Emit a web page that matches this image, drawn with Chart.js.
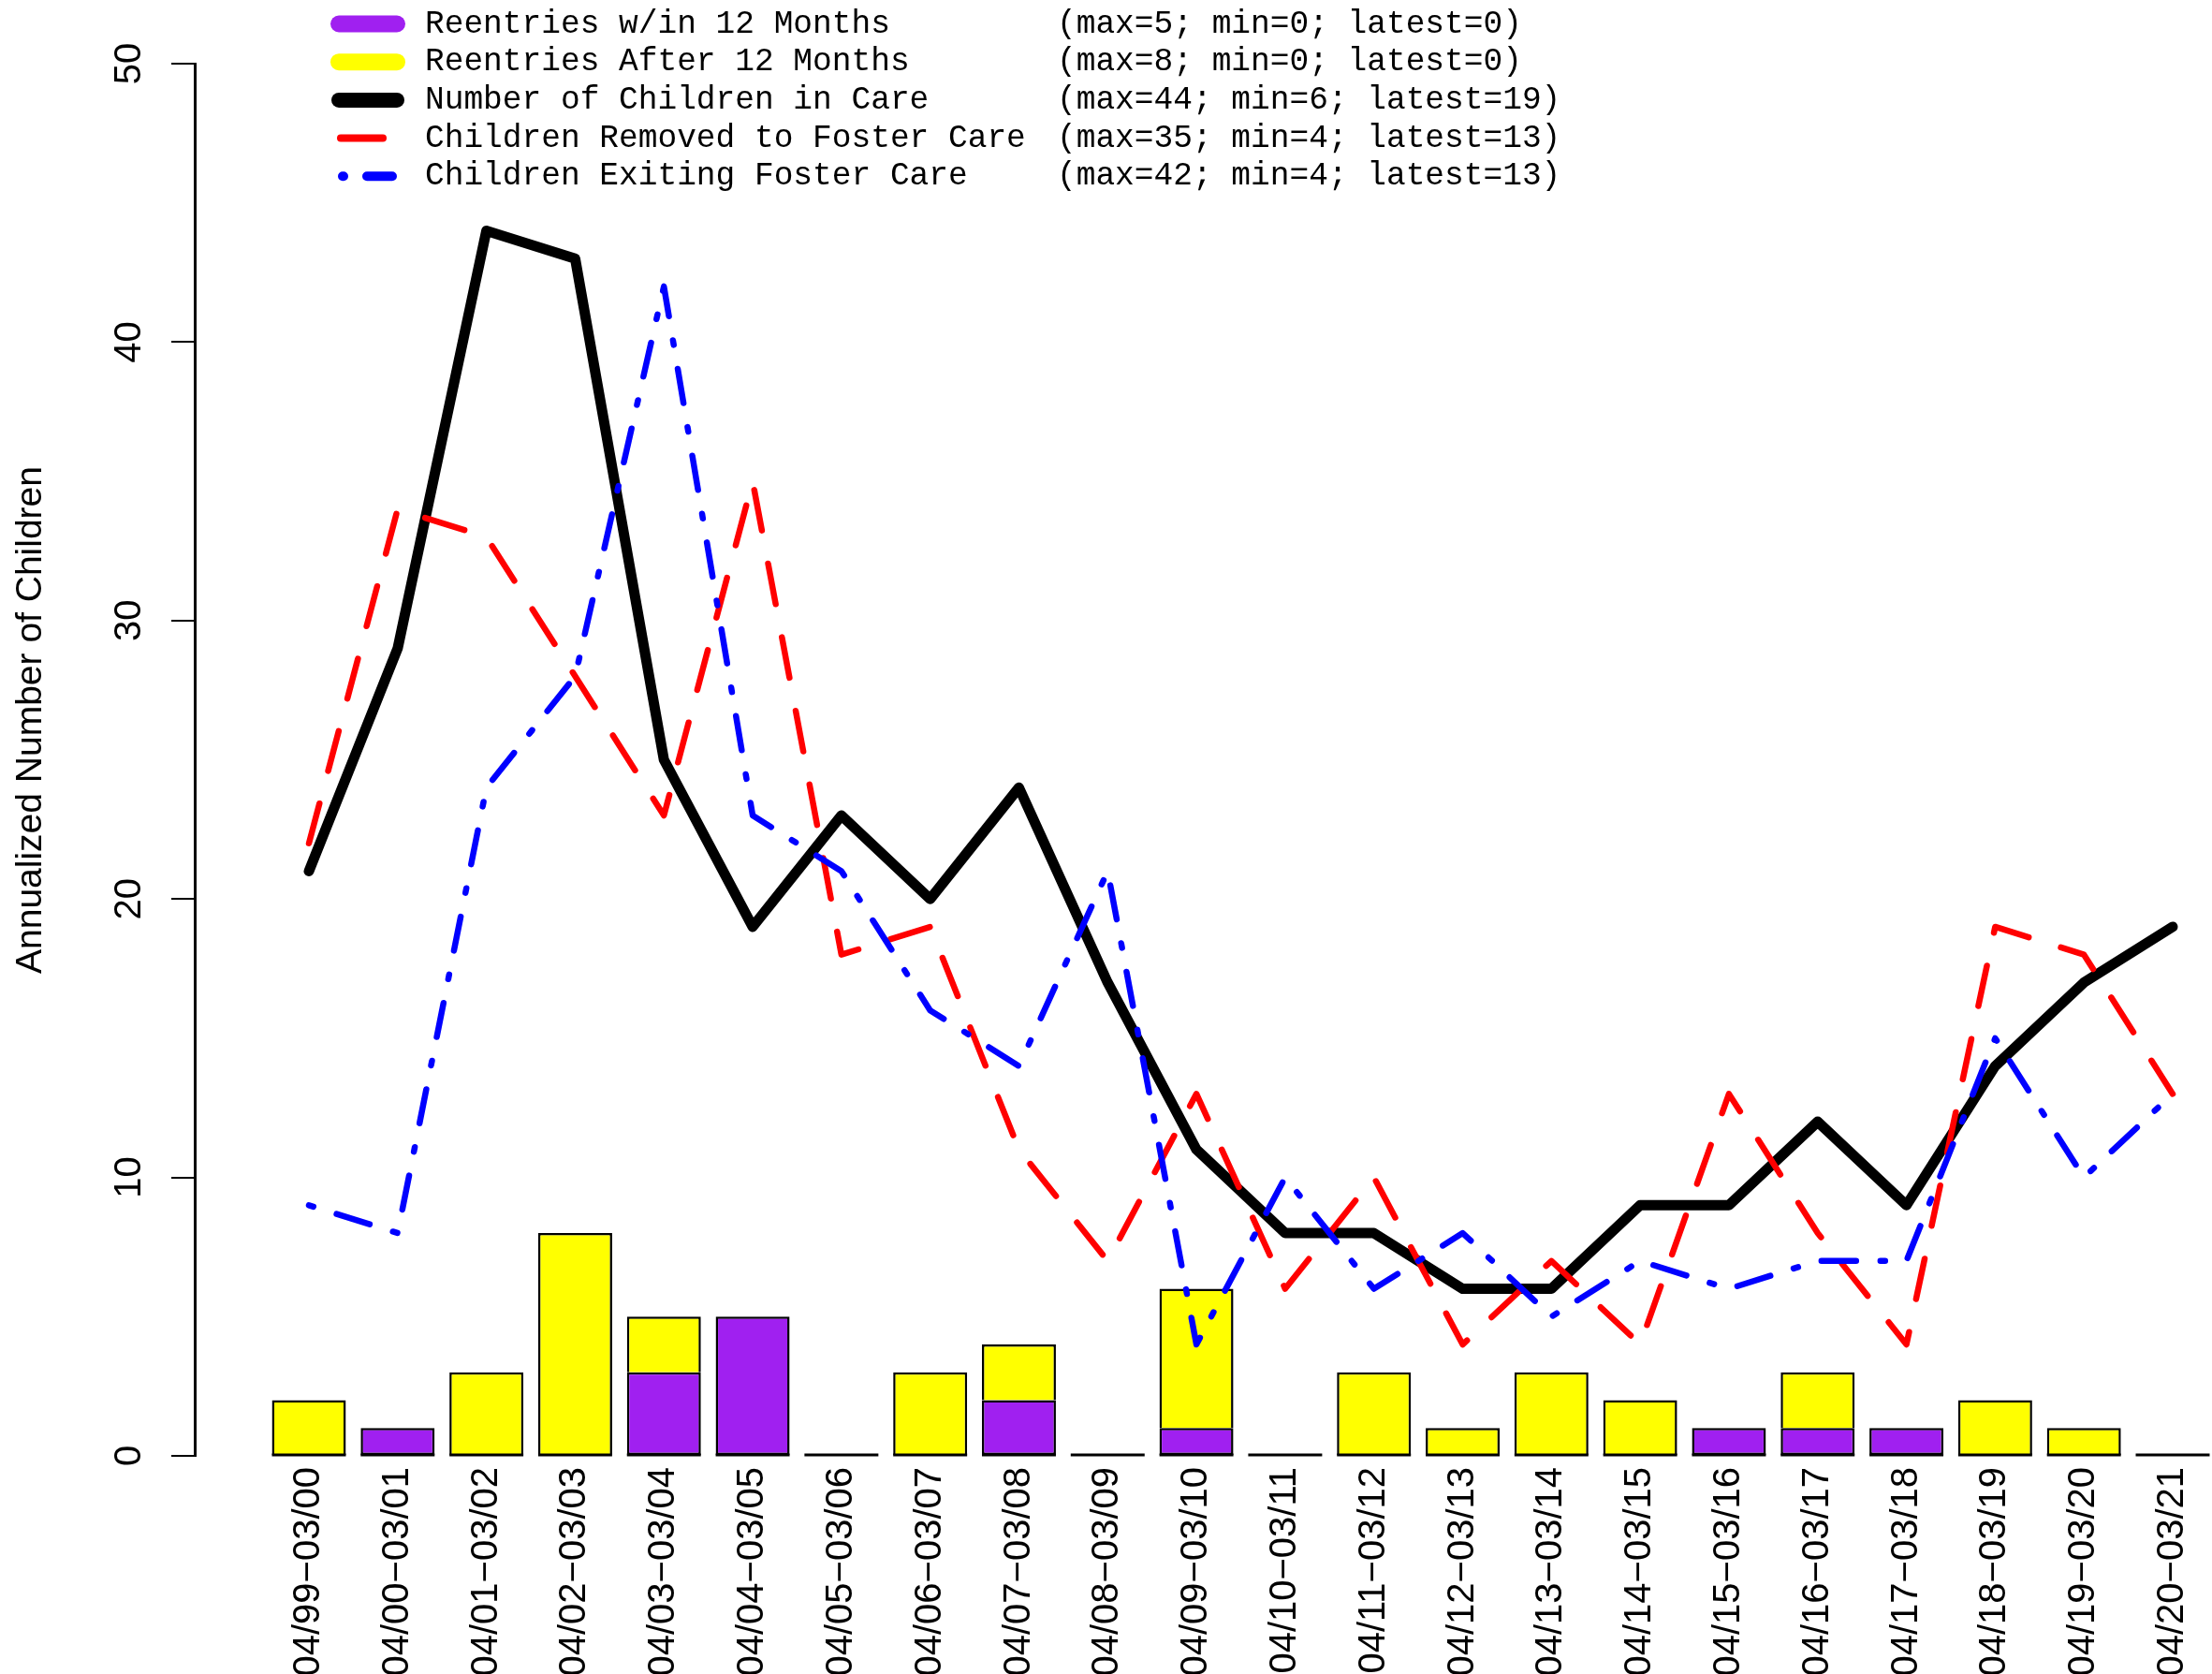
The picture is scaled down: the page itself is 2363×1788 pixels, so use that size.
<!DOCTYPE html>
<html>
<head>
<meta charset="utf-8">
<script src="https://cdn.jsdelivr.net/npm/chart.js@4.4.0/dist/chart.umd.min.js"></script>
<style>
    html, body { margin: 0; padding: 0; background: #ffffff; }
    #wrap { width: 2363px; height: 1788px; }
</style>
</head>
<body>
<div id="wrap"><canvas id="reentryChart" width="2363" height="1788"></canvas></div>
<script>
// Reporting periods (x tick labels)
const periods = [
    '04/99\u221203/00', '04/00\u221203/01', '04/01\u221203/02', '04/02\u221203/03',
    '04/03\u221203/04', '04/04\u221203/05', '04/05\u221203/06', '04/06\u221203/07',
    '04/07\u221203/08', '04/08\u221203/09', '04/09\u221203/10', '04/10\u221203/11',
    '04/11\u221203/12', '04/12\u221203/13', '04/13\u221203/14', '04/14\u221203/15',
    '04/15\u221203/16', '04/16\u221203/17', '04/17\u221203/18', '04/18\u221203/19',
    '04/19\u221203/20', '04/20\u221203/21'
];

// Series values
const reentriesWithin12 = [0, 1, 0, 0, 3, 5, 0, 0, 2, 0, 1, 0, 0, 0, 0, 0, 1, 1, 1, 0, 0, 0];
const reentriesAfter12  = [2, 0, 3, 8, 2, 0, 0, 3, 2, 0, 5, 0, 3, 1, 3, 2, 0, 2, 0, 2, 1, 0];
const childrenInCare    = [21, 29, 44, 43, 25, 19, 23, 20, 24, 17, 11, 8, 8, 6, 6, 9, 9, 12, 9, 14, 17, 19];
const childrenRemoved   = [22, 34, 33, 28, 23, 35, 18, 19, 11, 7, 13, 6, 10, 4, 7, 4, 13, 8, 4, 19, 18, 13];
const childrenExiting   = [9, 8, 24, 28, 42, 23, 21, 16, 14, 21, 4, 10, 6, 8, 5, 7, 6, 7, 7, 15, 10, 13];

const yTicks = [0, 10, 20, 30, 40, 50];
const yTitle = 'Annualized Number of Children';

const seriesNames = [
    'Reentries w/in 12 Months',
    'Reentries After 12 Months',
    'Number of Children in Care',
    'Children Removed to Foster Care',
    'Children Exiting Foster Care'
];
const seriesData = [reentriesWithin12, reentriesAfter12, childrenInCare, childrenRemoved, childrenExiting];

const toPoints = arr => arr.map((v, i) => ({ x: i, y: v }));

// legend symbols (drawn by hand, R style)
const legendKeys = [
    { color: '#A020F0', width: 18, dash: [], from: 362, to: 424 },
    { color: '#FFFF00', width: 18, dash: [], from: 362, to: 424 },
    { color: '#000000', width: 16, dash: [], from: 362, to: 424 },
    { color: '#FF0000', width: 8, dash: [45, 200], from: 364, to: 428 },
    { color: '#0000FF', width: 10, dash: [1, 25, 27, 200], from: 366, to: 428 }
];

const barBaseline = {
    id: 'barBaseline',
    afterDatasetDraw(chart, args) {
        if (args.index !== 1) return;
        const ctx = chart.ctx;
        const y0 = chart.scales.y.getPixelForValue(0);
        ctx.save();
        ctx.strokeStyle = '#000';
        ctx.lineWidth = 3;
        chart.getDatasetMeta(0).data.forEach(bar => {
            const { x, width } = bar.getProps(['x', 'width'], true);
            ctx.beginPath();
            ctx.moveTo(x - width / 2, y0 - 1);
            ctx.lineTo(x + width / 2, y0 - 1);
            ctx.stroke();
        });
        ctx.restore();
    }
};

const sideLegend = {
    id: 'sideLegend',
    afterDraw(chart) {
        const ctx = chart.ctx;
        ctx.save();

        // y axis title
        ctx.translate(33, 769);
        ctx.rotate(-Math.PI / 2);
        ctx.font = '39px "Liberation Sans", Arial, sans-serif';
        ctx.fillStyle = '#000';
        ctx.textAlign = 'center';
        ctx.textBaseline = 'middle';
        ctx.fillText(yTitle, 0, 0);
        ctx.setTransform(1, 0, 0, 1, 0, 0);

        // legend rows
        ctx.font = '34.5px "Liberation Mono", "DejaVu Sans Mono", monospace';
        ctx.textAlign = 'left';
        ctx.lineCap = 'round';
        seriesNames.forEach((name, i) => {
            const y = 25.5 + i * 40.7;
            const key = legendKeys[i];
            const vals = seriesData[i];
            ctx.strokeStyle = key.color;
            ctx.lineWidth = key.width;
            ctx.setLineDash(key.dash);
            ctx.beginPath();
            ctx.moveTo(key.from, y);
            ctx.lineTo(key.to, y);
            ctx.stroke();
            ctx.setLineDash([]);

            const stats = '(max=' + Math.max(...vals) + '; min=' + Math.min(...vals) +
                '; latest=' + vals[vals.length - 1] + ')';
            ctx.fillText(name, 454, y);
            ctx.fillText(stats, 1129, y);
        });
        ctx.restore();
    }
};

Chart.defaults.font.family = '"Liberation Sans", Arial, sans-serif';
Chart.defaults.color = '#000';

const ctx = document.getElementById('reentryChart').getContext('2d');

new Chart(ctx, {
    type: 'bar',
    data: {
        datasets: [
            {
                type: 'bar',
                label: seriesNames[0],
                data: toPoints(reentriesWithin12),
                stack: 'reentries',
                backgroundColor: '#A020F0',
                borderColor: '#000',
                borderWidth: 2.5,
                borderSkipped: false,
                barPercentage: 0.833,
                categoryPercentage: 1,
                order: 10
            },
            {
                type: 'bar',
                label: seriesNames[1],
                data: toPoints(reentriesAfter12),
                stack: 'reentries',
                backgroundColor: '#FFFF00',
                borderColor: '#000',
                borderWidth: 2.5,
                borderSkipped: 'start',
                barPercentage: 0.833,
                categoryPercentage: 1,
                order: 10
            },
            {
                type: 'line',
                label: seriesNames[2],
                data: toPoints(childrenInCare),
                borderColor: '#000',
                borderWidth: 11,
                borderJoinStyle: 'round',
                borderCapStyle: 'round',
                pointRadius: 0,
                tension: 0,
                fill: false,
                order: 3
            },
            {
                type: 'line',
                label: seriesNames[3],
                data: toPoints(childrenRemoved),
                borderColor: '#FF0000',
                borderWidth: 6.5,
                borderDash: [44, 36],
                borderJoinStyle: 'round',
                borderCapStyle: 'round',
                pointRadius: 0,
                tension: 0,
                fill: false,
                order: 2
            },
            {
                type: 'line',
                label: seriesNames[4],
                data: toPoints(childrenExiting),
                borderColor: '#0000FF',
                borderWidth: 6.5,
                borderDash: [5, 26, 37, 26],
                borderJoinStyle: 'round',
                borderCapStyle: 'round',
                pointRadius: 0,
                tension: 0,
                fill: false,
                order: 1
            }
        ]
    },
    options: {
        responsive: false,
        animation: false,
        devicePixelRatio: 1,
        layout: {
            padding: { top: 68, right: 0, bottom: 0, left: 0 }
        },
        plugins: {
            legend: { display: false },
            tooltip: { enabled: false }
        },
        scales: {
            x: {
                type: 'linear',
                offset: false,
                min: -1.2868,
                max: 21.443,
                grid: { display: false, drawTicks: false, offset: false },
                border: { display: false },
                ticks: {
                    autoSkip: false,
                    minRotation: 90,
                    maxRotation: 90,
                    padding: 12,
                    color: '#000',
                    font: { size: 40 },
                    callback: function(value) {
                        return periods[value];
                    }
                },
                afterBuildTicks: function(scale) {
                    scale.ticks = periods.map((p, i) => ({ value: i }));
                },
                afterFit: function(scale) {
                    scale.height = 233;
                    scale.paddingLeft = 0;
                    scale.paddingRight = 0;
                }
            },
            y: {
                min: 0,
                max: 50,
                grid: {
                    drawOnChartArea: false,
                    drawTicks: true,
                    tickLength: 25,
                    color: '#000',
                    lineWidth: 2
                },
                border: { display: true, color: '#000', width: 3 },
                ticks: {
                    minRotation: 90,
                    maxRotation: 90,
                    crossAlign: 'center',
                    padding: 22,
                    color: '#000',
                    font: { size: 40 }
                },
                afterBuildTicks: function(scale) {
                    scale.ticks = yTicks.map(v => ({ value: v }));
                },
                afterFit: function(scale) {
                    scale.width = 208;
                    scale.paddingTop = 0;
                    scale.paddingBottom = 0;
                }
            }
        }
    },
    plugins: [barBaseline, sideLegend]
});
</script>
</body>
</html>
